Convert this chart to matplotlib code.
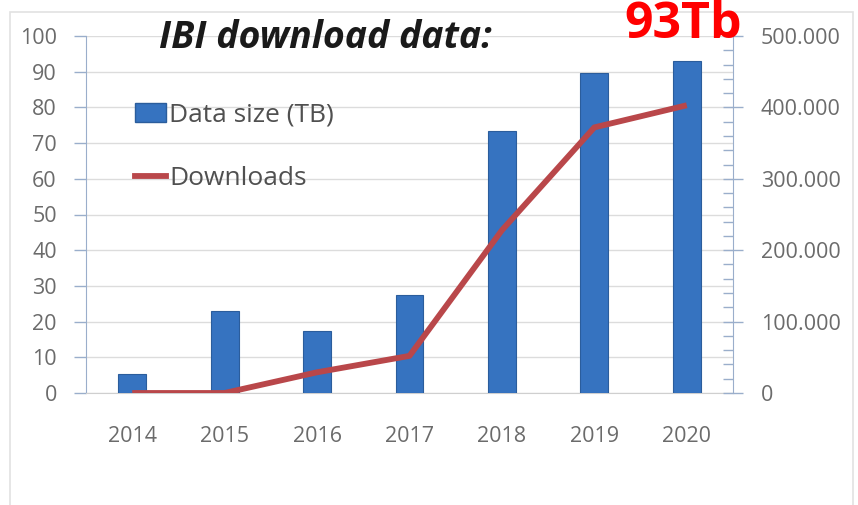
import numpy as np
import matplotlib.pyplot as plt
from matplotlib.patches import Rectangle
from matplotlib.lines import Line2D
from matplotlib.ticker import FuncFormatter, MultipleLocator

# chart values
years = ["2014", "2015", "2016", "2017", "2018", "2019", "2020"]
data_size_tb = [5.3, 23, 17.5, 27.5, 73.5, 89.5, 93]
downloads = [0, 0, 29000, 52000, 228000, 372000, 403000]

plt.rcParams['font.family'] = ['Open Sans', 'DejaVu Sans']

fig = plt.figure(figsize=(8.58, 5.05), dpi=100)

# light slide frame
fig.patches.append(Rectangle((10 / 858, -0.1), 843 / 858, 1.1 - 12 / 505,
                             transform=fig.transFigure, fill=False,
                             edgecolor='#e2e2e2', linewidth=1.2))

ax = fig.add_axes([86 / 858, (505 - 393) / 505, (733 - 86) / 858, (393 - 36) / 505])
x = np.arange(len(years))

ax.bar(x, data_size_tb, width=0.3, color='#3673c0', edgecolor='#2b5d9c',
       linewidth=0.8, zorder=3)
ax.set_xlim(-0.5, len(years) - 0.5)
ax.set_ylim(0, 100)
ax.yaxis.set_major_locator(MultipleLocator(10))
ax.grid(axis='y', color='#dcdcdc', linewidth=1, zorder=0)
ax.set_xticks(x)
ax.set_xticklabels(years)
ax.tick_params(axis='x', length=0, pad=24, labelsize=15.5, labelcolor='#6b6b6b')
ax.tick_params(axis='y', length=9, width=1, color='#9aaecb', pad=12,
               labelsize=15.5, labelcolor='#6b6b6b')
for s in ['top', 'right']:
    ax.spines[s].set_visible(False)
ax.spines['left'].set_color('#9aaecb')
ax.spines['bottom'].set_color('#cfcfcf')

ax2 = ax.twinx()
ax2.plot(x, downloads, color='#b9474a', linewidth=4.2, solid_capstyle='butt',
         solid_joinstyle='round', zorder=4)
ax2.set_ylim(0, 500000)
ax2.yaxis.set_major_locator(MultipleLocator(100000))
ax2.yaxis.set_minor_locator(MultipleLocator(20000))
ax2.yaxis.set_major_formatter(FuncFormatter(
    lambda v, p: "0" if v == 0 else f"{int(v):,}".replace(",", ".")))
ax2.tick_params(axis='y', which='major', direction='inout', length=14, width=1,
                color='#9aaecb', pad=13, labelsize=15.5, labelcolor='#6b6b6b')
ax2.tick_params(axis='y', which='minor', direction='in', length=7, width=1,
                color='#9aaecb')
for s in ['top', 'left', 'bottom']:
    ax2.spines[s].set_visible(False)
ax2.spines['right'].set_color('#9aaecb')

handles = [Rectangle((0, 0), 1, 1, facecolor='#3673c0', edgecolor='#2b5d9c'),
           Line2D([0], [0], color='#b9474a', linewidth=4.2)]
ax.legend(handles, ["Data size (TB)", "Downloads"], loc='upper left',
          bbox_to_anchor=(0.055, 0.85), frameon=False, fontsize=19,
          labelcolor='#505050', handlelength=1.2, handletextpad=0.1,
          labelspacing=1.45, borderpad=0)

fig.text(325 / 858, 1 - 38 / 505, "IBI download data:", fontsize=27,
         fontweight='bold', style='italic', color='#1a1a1a',
         ha='center', va='center')
fig.text(683 / 858, 1 - 25 / 505, "93Tb", fontsize=36, fontweight='bold',
         color='#ff0000', ha='center', va='center')

plt.savefig("out.png", dpi=100)
